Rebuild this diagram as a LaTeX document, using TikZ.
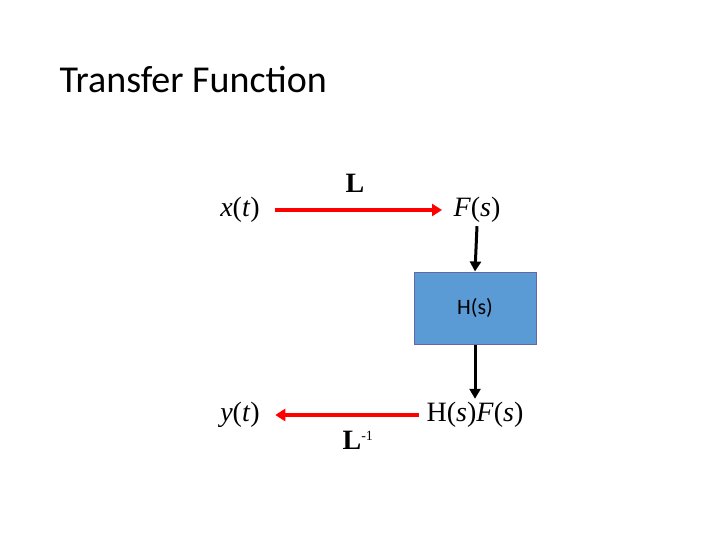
\documentclass[tikz,border=0pt]{standalone}
\usepackage{fontspec}
\newfontfamily\calib{Carlito}
\newfontfamily\tms{Liberation Serif}
\usetikzlibrary{arrows.meta}
\begin{document}
\begin{tikzpicture}[x=1pt,y=-1pt,
  redarr/.style={draw=red,line width=4.5pt,-{Triangle[length=10pt,width=12pt]}},
  blkarr/.style={draw=black,line width=3pt,-{Triangle[length=10pt,width=11pt]}},
  math/.style={font=\tms\fontsize{28}{30}\selectfont}]
\useasboundingbox (0,0) rectangle (720,540);
\node[anchor=west,font=\calib\fontsize{38}{40}\selectfont] (title) at (56,80) {Transfer Function};
\node[math] (x) at (240,210) {\textit{x}(\textit{t})};
\node[math] (F) at (477,210) {\textit{F}(\textit{s})};
\node[math] (L) at (355,183) {\textbf{L}};
\node[draw=blue!40!black!60,fill={rgb,255:red,91;green,155;blue,213},line width=1pt,minimum width=122pt,minimum height=72pt,font=\calib\fontsize{22}{24}\selectfont] (H) at (475,308) {H(s)};
\node[math] (HF) at (475,415) {H(\textit{s})\textit{F}(\textit{s})};
\node[math] (y) at (240,415) {\textit{y}(\textit{t})};
\node[math] (Li) at (358,440) {\textbf{L}\textsuperscript{\fontsize{14}{14}\selectfont -1}};
\draw[redarr] (x.east)++(12,0) -- ([xshift=-8]F.west);
\draw[redarr] ([xshift=-4]HF.west) -- ([xshift=12]y.east);
\draw[blkarr] (F.south) -- (H.north);
\draw[blkarr] (H.south) -- (HF.north);
\end{tikzpicture}
\end{document}
